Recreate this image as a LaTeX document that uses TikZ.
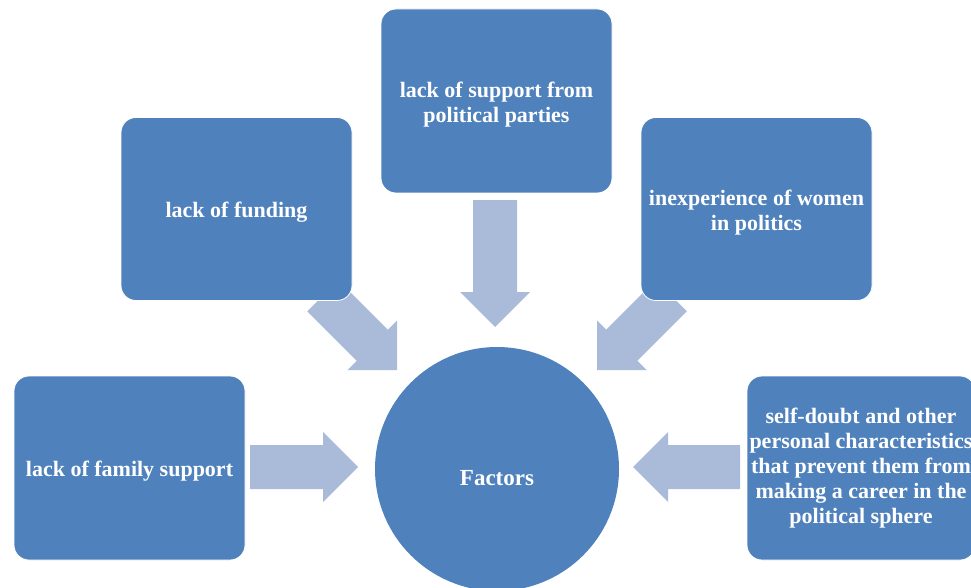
\documentclass[tikz,border=0pt]{standalone}
\usepackage{fontspec}
\setmainfont{Liberation Serif}
\definecolor{boxblue}{HTML}{4F81BD}
\definecolor{arrowblue}{HTML}{A9BBD9}
\newcommand\lowerstrut{\rule{0pt}{22pt}}
\tikzset{
  factor/.style={fill=boxblue, draw=white, line width=0.8pt, rounded corners=15pt,
    minimum width=231pt, minimum height=183pt, text=white,
    font=\bfseries\fontsize{22}{25}\selectfont, align=center, inner sep=0pt},
  hub/.style={circle, fill=boxblue, minimum size=244pt, inner sep=0pt, text=white,
    font=\bfseries\fontsize{23}{25}\selectfont},
  blockarrow/.style={fill=arrowblue}
}
\newcommand\blockarr[4]{%
  \begin{scope}[shift={(#1,#2)},rotate=#3]
    \fill[blockarrow] (0,0) -- (-35,35) -- (-35,22) -- (-#4,22) -- (-#4,-22)
      -- (-35,-22) -- (-35,-35) -- cycle;
  \end{scope}}
\begin{document}
\begin{tikzpicture}[x=1pt,y=-1pt]
  \useasboundingbox (0,0) rectangle (971,588);
  \clip (0,0) rectangle (971,588);
  % arrows
  \blockarr{495}{327}{-90}{127}
  \blockarr{358}{467}{0}{108}
  \blockarr{633}{467}{180}{107}
  \blockarr{397}{370}{-45}{105}
  \blockarr{597}{370}{-135}{105}
  % boxes
  \node[factor, minimum height=184pt] (top) at (496.5,101) {\lowerstrut lack of support from\\political parties};
  \node[factor] (fund) at (236.5,209) {\lowerstrut lack of funding};
  \node[factor] (inexp) at (756.5,209) {\lowerstrut inexperience of women\\in politics};
  \node[factor, minimum height=184pt] (fam) at (129.5,468) {\lowerstrut lack of family support};
  \node[factor, minimum width=228pt, minimum height=184pt] (self) at (861,468)
    {self-doubt and other\\personal characteristics\\that prevent them from\\making a career in the\\political sphere};
  \node[hub] (fac) at (497,469) {\raisebox{-16pt}[0pt][0pt]{Factors}};
\end{tikzpicture}
\end{document}
